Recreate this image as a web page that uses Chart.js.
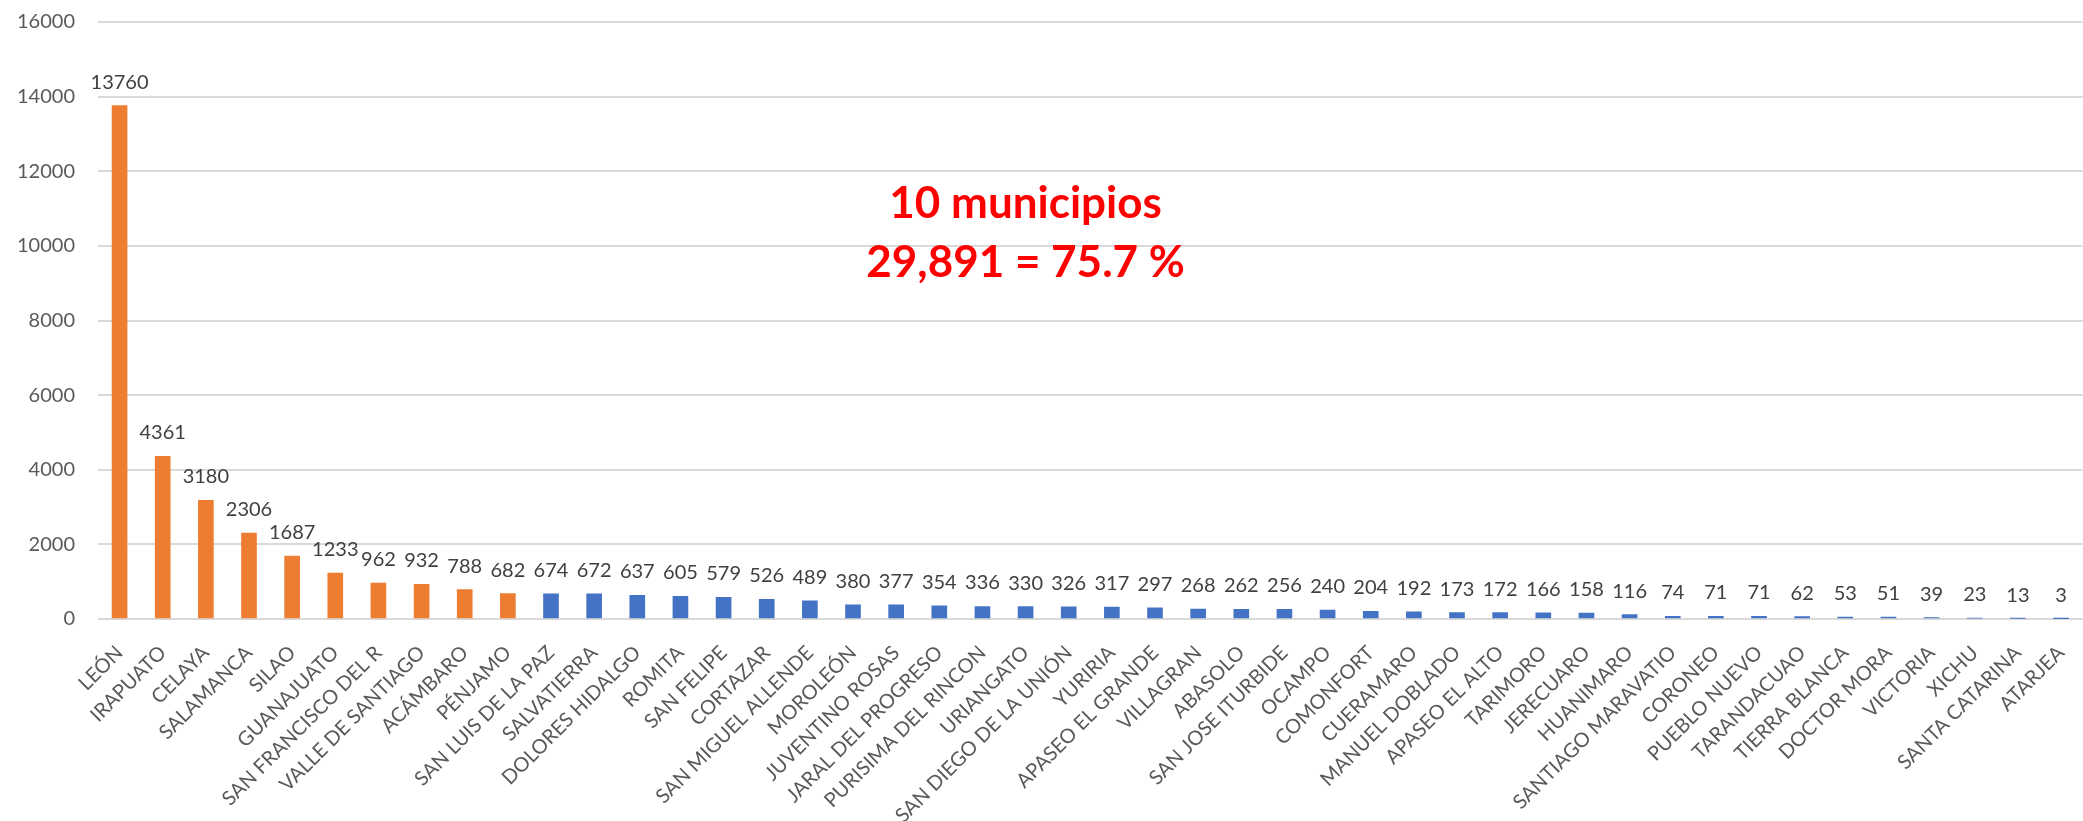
<!DOCTYPE html>
<html>
<head>
<meta charset="utf-8">
<script src="https://cdn.jsdelivr.net/npm/chart.js@4.4.1/dist/chart.umd.min.js"></script>
<style>
  html, body { margin: 0; padding: 0; background: #ffffff; overflow: hidden; }
  #wrap { position: relative; width: 2100px; height: 821px; }
</style>
</head>
<body>
<div id="wrap"><canvas id="c"></canvas></div>
<script>
const categories = [
  "LEÓN", "IRAPUATO", "CELAYA", "SALAMANCA", "SILAO", "GUANAJUATO",
  "SAN FRANCISCO DEL R", "VALLE DE SANTIAGO", "ACÁMBARO", "PÉNJAMO",
  "SAN LUIS DE LA PAZ", "SALVATIERRA", "DOLORES HIDALGO", "ROMITA",
  "SAN FELIPE", "CORTAZAR", "SAN MIGUEL ALLENDE", "MOROLEÓN",
  "JUVENTINO ROSAS", "JARAL DEL PROGRESO", "PURISIMA DEL RINCON",
  "URIANGATO", "SAN DIEGO DE LA UNIÓN", "YURIRIA", "APASEO EL GRANDE",
  "VILLAGRAN", "ABASOLO", "SAN JOSE ITURBIDE", "OCAMPO", "COMONFORT",
  "CUERAMARO", "MANUEL DOBLADO", "APASEO EL ALTO", "TARIMORO",
  "JERECUARO", "HUANIMARO", "SANTIAGO MARAVATIO", "CORONEO",
  "PUEBLO NUEVO", "TARANDACUAO", "TIERRA BLANCA", "DOCTOR MORA",
  "VICTORIA", "XICHU", "SANTA CATARINA", "ATARJEA"
];
const values = [
  13760, 4361, 3180, 2306, 1687, 1233, 962, 932, 788, 682,
  674, 672, 637, 605, 579, 526, 489, 380, 377, 354,
  336, 330, 326, 317, 297, 268, 262, 256, 240, 204,
  192, 173, 172, 166, 158, 116, 74, 71, 71, 62,
  53, 51, 39, 23, 13, 3
];
const highlightedCount = 10;
const yTicks = [0, 2000, 4000, 6000, 8000, 10000, 12000, 14000, 16000];
const annotationLines = ["10 municipios", "29,891 = 75.7 %"];

const ORANGE = "#ED7D31";
const BLUE = "#4472C4";
const barColors = values.map((v, i) => i < highlightedCount ? ORANGE : BLUE);

const valueLabels = {
  id: "valueLabels",
  afterDatasetsDraw(chart) {
    const ctx = chart.ctx;
    const meta = chart.getDatasetMeta(0);
    ctx.save();
    ctx.font = "20px Lato";
    ctx.fillStyle = "#404040";
    ctx.textAlign = "center";
    ctx.textBaseline = "alphabetic";
    meta.data.forEach((bar, i) => {
      ctx.fillText(String(values[i]), bar.x, bar.y - 17);
    });
    ctx.restore();
  }
};

const annotation = {
  id: "annotation",
  afterDraw(chart) {
    const ctx = chart.ctx;
    const xs = chart.scales.x;
    const ys = chart.scales.y;
    const cx = xs.getPixelForValue(21);
    ctx.save();
    ctx.font = "bold 44px Lato";
    ctx.fillStyle = "#FF0000";
    ctx.textAlign = "center";
    ctx.textBaseline = "alphabetic";
    ctx.fillText(annotationLines[0], cx, ys.getPixelForValue(10747));
    ctx.fillText(annotationLines[1], cx, ys.getPixelForValue(9166));
    ctx.restore();
  }
};

new Chart(document.getElementById("c"), {
  type: "bar",
  data: {
    labels: categories,
    datasets: [{
      data: values,
      backgroundColor: barColors,
      borderWidth: 0,
      barThickness: 15
    }]
  },
  options: {
    responsive: true,
    maintainAspectRatio: false,
    animation: false,
    devicePixelRatio: 1,
    layout: { padding: { top: 22, right: 1, bottom: 0, left: 0 } },
    plugins: {
      legend: { display: false },
      tooltip: { enabled: false },
      title: { display: false }
    },
    scales: {
      x: {
        grid: { display: false, drawTicks: false },
        border: { display: false },
        ticks: {
          autoSkip: false,
          minRotation: 45,
          maxRotation: 45,
          padding: 22,
          color: "#595959",
          font: { family: "Lato", size: 20 }
        },
        afterFit(scale) { scale.height = 202; }
      },
      y: {
        min: 0,
        max: 16000,
        afterBuildTicks(scale) { scale.ticks = yTicks.map(v => ({ value: v })); },
        grid: { color: "#D9D9D9", lineWidth: 2, drawTicks: false },
        border: { display: false },
        ticks: {
          padding: 23,
          color: "#595959",
          font: { family: "Lato", size: 20 },
          callback: (v) => String(v)
        },
        afterFit(scale) {
          scale.width = 98;
          scale.paddingTop = 0;
          scale.paddingBottom = 0;
        }
      }
    }
  },
  plugins: [valueLabels, annotation]
});
</script>
</body>
</html>
